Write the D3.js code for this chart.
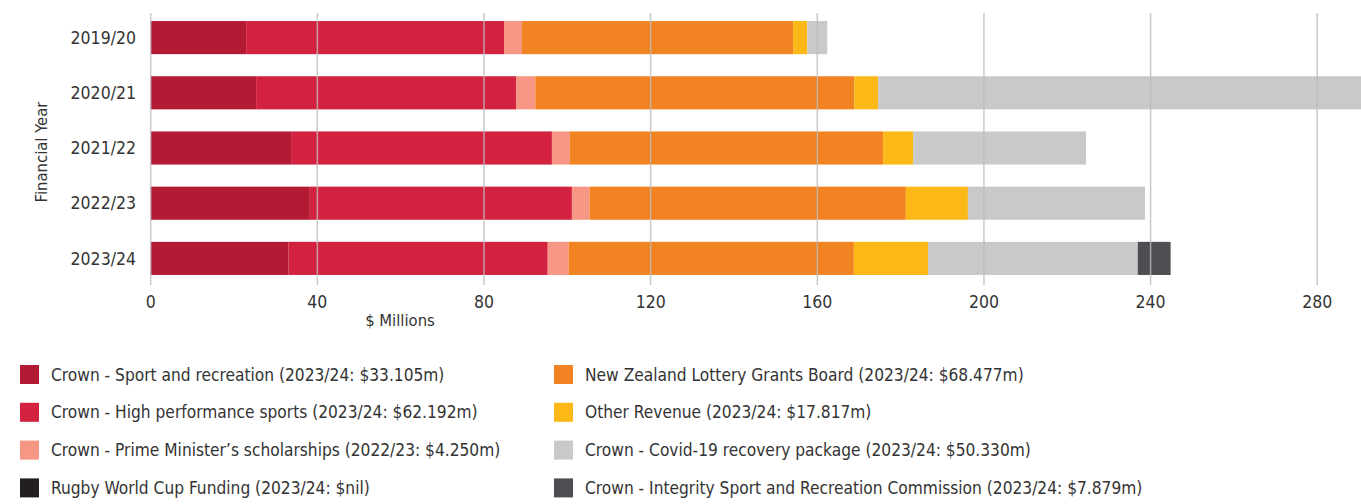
<!DOCTYPE html>
<html>
<head>
<meta charset="utf-8">
<script src="https://cdn.jsdelivr.net/npm/d3@7"></script>
<style>
  html, body { margin: 0; padding: 0; background: #fff; }
  svg { display: block; }
  text { font-family: "DejaVu Sans Condensed", "Liberation Sans Narrow", Roboto, sans-serif; fill: #333; }
</style>
</head>
<body>
<svg id="chart" width="1361" height="504"></svg>
<script>
// Revenue by source, $ millions, per financial year
const years = ["2019/20", "2020/21", "2021/22", "2022/23", "2023/24"];
const sportRec   = [22.9, 25.3, 33.7, 38.2, 33.105];
const highPerf   = [61.9, 62.4, 62.6, 62.9, 62.192];
const pmScholar  = [4.3, 4.6, 4.3, 4.25, 5.0];
const lottery    = [65.1, 76.6, 75.2, 75.9, 68.477];
const otherRev   = [3.4, 5.7, 7.2, 14.9, 17.817];
const covid      = [4.8, 120.0, 41.5, 42.5, 50.33];
const rugbyWC    = [0, 0, 0, 0, 0];
const integrity  = [0, 0, 0, 0, 7.879];
const xTicks = [0, 40, 80, 120, 160, 200, 240, 280];

const series = [
  { key: "sportRec",  values: sportRec,  color: "#b31b34", label: "Crown - Sport and recreation (2023/24: $33.105m)" },
  { key: "highPerf",  values: highPerf,  color: "#d2223f", label: "Crown - High performance sports (2023/24: $62.192m)" },
  { key: "pmScholar", values: pmScholar, color: "#f69685", label: "Crown - Prime Minister\u2019s scholarships (2022/23: $4.250m)" },
  { key: "lottery",   values: lottery,   color: "#f28322", label: "New Zealand Lottery Grants Board (2023/24: $68.477m)" },
  { key: "otherRev",  values: otherRev,  color: "#fbb817", label: "Other Revenue (2023/24: $17.817m)" },
  { key: "covid",     values: covid,     color: "#c8c9cb", label: "Crown - Covid-19 recovery package (2023/24: $50.330m)" },
  { key: "rugbyWC",   values: rugbyWC,   color: "#231f20", label: "Rugby World Cup Funding (2023/24: $nil)" },
  { key: "integrity", values: integrity, color: "#4d4e51", label: "Crown - Integrity Sport and Recreation Commission (2023/24: $7.879m)" }
];

const rows = years.map((y, i) => {
  const r = { year: y };
  series.forEach(s => r[s.key] = s.values[i]);
  return r;
});

const svg = d3.select("#chart");

const x = d3.scaleLinear().domain([0, 290.5]).range([150.7, 1361]);
const y = d3.scaleBand().domain(years).range([10, 286]).paddingInner(0.4).paddingOuter(0.2);

const stack = d3.stack().keys(series.map(s => s.key));
const stacked = stack(rows);
const colorOf = Object.fromEntries(series.map(s => [s.key, s.color]));

// stacked bars
svg.append("g")
  .selectAll("g")
  .data(stacked)
  .join("g")
    .attr("fill", d => colorOf[d.key])
  .selectAll("rect")
  .data(d => d)
  .join("rect")
    .attr("x", d => x(d[0]))
    .attr("y", d => y(d.data.year))
    .attr("width", d => Math.max(0, x(d[1]) - x(d[0])))
    .attr("height", y.bandwidth());

// vertical grid lines, drawn over the bars
svg.append("g")
  .selectAll("line")
  .data(xTicks)
  .join("line")
    .attr("x1", d => x(d)).attr("x2", d => x(d))
    .attr("y1", 13).attr("y2", 285)
    .attr("stroke", "#bdbdbd")
    .attr("stroke-opacity", 0.8)
    .attr("stroke-width", 1.5);

// x tick labels
svg.append("g")
  .selectAll("text")
  .data(xTicks)
  .join("text")
    .attr("x", d => x(d))
    .attr("y", 308)
    .attr("text-anchor", "middle")
    .style("font-size", "17.5px")
    .text(d => d);

// y tick labels
svg.append("g")
  .selectAll("text")
  .data(years)
  .join("text")
    .attr("x", 136)
    .attr("y", d => y(d) + y.bandwidth() / 2)
    .attr("dy", "0.35em")
    .attr("text-anchor", "end")
    .style("font-size", "17.5px")
    .text(d => d);

// axis titles
svg.append("text")
  .attr("x", 400)
  .attr("y", 326)
  .attr("text-anchor", "middle")
  .style("font-size", "16.5px")
  .text("$ Millions");

svg.append("text")
  .attr("transform", "translate(47,152) rotate(-90)")
  .attr("text-anchor", "middle")
  .style("font-size", "16.5px")
  .text("Financial Year");

// legend: two columns of four
const legendOrder = ["sportRec", "highPerf", "pmScholar", "rugbyWC", "lottery", "otherRev", "covid", "integrity"];
const legendItems = legendOrder.map((k, i) => {
  const s = series.find(s => s.key === k);
  return { ...s, col: Math.floor(i / 4), row: i % 4 };
});
const colX = [20, 554];
const rowTop = 365, rowStep = 37.8, sw = 19;

const lg = svg.append("g")
  .selectAll("g")
  .data(legendItems)
  .join("g")
    .attr("transform", d => `translate(${colX[d.col]},${rowTop + d.row * rowStep})`);

lg.append("rect")
  .attr("width", sw).attr("height", sw)
  .attr("fill", d => d.color);

lg.append("text")
  .attr("x", 31)
  .attr("y", sw / 2)
  .attr("dy", "0.35em")
  .style("font-size", "17.2px")
  .text(d => d.label);
</script>
</body>
</html>
